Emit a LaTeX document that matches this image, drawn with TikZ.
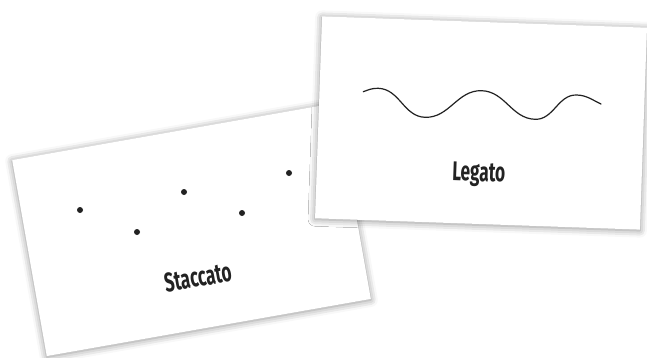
\documentclass[tikz,border=0pt]{standalone}
\usepackage{fontspec}
\newfontfamily\cardfont{Fira Sans}[FakeStretch=0.64]
\usetikzlibrary{shadows.blur}
\definecolor{ink}{HTML}{222222}
\begin{document}
\begin{tikzpicture}[x=1pt,y=1pt,
  card/.style={fill=white, draw=none, inner sep=0pt,
    blur shadow={shadow xshift=0pt, shadow yshift=-1pt, shadow blur radius=7pt, shadow opacity=45}},
  lbl/.style={font=\cardfont\bfseries\fontsize{27}{27}\selectfont, text=ink, inner sep=0pt, anchor=base},
  dotmark/.style={fill=ink},
  wave/.style={draw=ink, line width=1.2pt, line cap=round}]
\useasboundingbox (0,0) rectangle (647,357);
% Staccato card
\node[card, minimum width=329pt, minimum height=199pt, rotate=10] (stac) at (191.5,127.5) {};
\fill[dotmark] (80,147) circle (3);
\fill[dotmark] (137,125) circle (3);
\fill[dotmark] (184,165) circle (3);
\fill[dotmark] (242,144) circle (3);
\fill[dotmark] (289,184) circle (3);
\node[lbl, rotate=10] (stacl) at (199.5,70.5) {Staccato};
% Legato card
\node[card, minimum width=325pt, minimum height=202pt, rotate=-2] (leg) at (481,234) {};
\coordinate (w0) at (363.3,265.3);
\coordinate (w1) at (378.3,268.7);
\coordinate (w2) at (425,239.7);
\coordinate (w3) at (481.7,266.3);
\coordinate (w4) at (535,237.7);
\coordinate (w5) at (576.7,262);
\coordinate (w6) at (601,253);
\draw[wave] (w0) to[out=20,in=178] (w1) to[out=-2,in=178] (w2) to[out=-2,in=178] (w3)
  to[out=-2,in=178] (w4) to[out=-2,in=178] (w5) to[out=-2,in=155] (w6);
\node[lbl, rotate=-2] (legl) at (478.5,176) {Legato};
\end{tikzpicture}
\end{document}
